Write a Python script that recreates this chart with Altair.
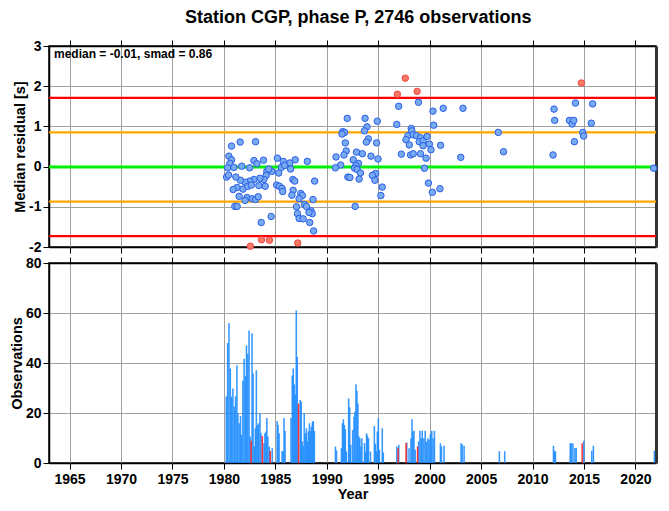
import altair as alt
import pandas as pd

STATION = "CGP"
PHASE = "P"
N_OBS = 2746
MEDIAN = -0.01
SMAD = 0.86

# ---- residual points (monthly medians) ----
res_year = [
    1980.74, 1981.58, 1983.08, 1980.48, 1980.74, 1980.58, 1980.36, 1980.26, 1980.45, 1980.97,
    1981.74, 1982.50, 1982.92, 1983.21, 1983.85, 1985.20, 1985.77, 1986.41, 1986.93, 1988.11,
    1985.58, 1985.90, 1986.48, 1985.33, 1984.65, 1984.17, 1984.36, 1984.11, 1983.88, 1983.50,
    1982.92, 1982.50, 1982.06, 1981.61, 1981.16, 1981.29, 1980.90, 1981.86, 1982.31, 1982.67,
    1983.40, 1984.01, 1985.13, 1985.39, 1985.65, 1985.71, 1986.70, 1986.89, 1988.82, 1986.73,
    1986.61, 1981.48, 1982.25, 1982.76, 1983.08, 1983.34, 1982.06, 1981.06, 1981.29, 1987.47,
    1987.63, 1987.31, 1988.66, 1987.83, 1988.02, 1987.06, 1988.47, 1988.59, 1988.27, 1987.15,
    1987.31, 1987.70, 1984.59, 1983.63, 1988.34, 1988.72,
    1991.99, 1993.72, 1993.91, 1993.66, 1994.91, 1991.54, 1991.73, 1991.48, 1991.80, 1994.04,
    1993.85, 1994.84, 1991.89, 1991.67, 1990.90, 1992.89, 1993.46, 1994.30, 1994.98, 1992.57,
    1993.08, 1992.82, 1991.35, 1990.84, 1992.70, 1992.95, 1993.27, 1992.05, 1992.25, 1993.14,
    1994.55, 1994.75, 1994.43, 1994.68, 1995.39, 1995.26, 1992.76, 1996.99, 1998.91, 1996.80,
    1998.21, 1998.27, 1997.89, 1998.40, 1998.72, 1999.11, 1997.70, 1998.98, 1999.36, 1998.02,
    1999.36, 1997.25, 1998.14, 1998.40, 1999.11, 1999.49,
    1999.75, 1999.97, 2000.13, 2001.06, 1999.65, 1999.88, 2000.26, 2001.00, 2000.32, 2001.32,
    2003.24, 2000.39, 2003.02, 2006.67, 2007.18, 2011.99, 2012.09, 2012.15, 2013.59, 2013.85,
    2014.01, 2014.07, 2014.17, 2014.88, 2014.97, 2015.71, 2015.84, 2021.77,
]
res_val = [
    0.51, 0.61, 0.62, 0.26, 0.17, 0.08, -0.03, -0.26, -0.21, -0.02,
    0.01, -0.03, 0.15, 0.07, 0.16, 0.21, 0.13, 0.09, 0.17, 0.13,
    -0.02, 0.03, -0.06, -0.16, -0.12, -0.12, -0.06, -0.22, -0.32, -0.29,
    -0.32, -0.36, -0.39, -0.34, -0.26, -0.52, -0.57, -0.56, -0.49, -0.46,
    -0.47, -0.49, -0.46, -0.49, -0.54, -0.62, -0.32, -0.36, -0.36, -0.59,
    -0.71, -0.74, -0.77, -0.80, -0.82, -0.75, -0.84, -0.99, -0.99, -0.67,
    -0.72, -0.80, -0.82, -0.94, -0.99, -1.00, -1.10, -1.17, -1.14, -1.17,
    -1.29, -1.30, -1.24, -1.39, -1.39, -1.60,
    1.20, 1.20, 0.99, 0.89, 1.13, 0.87, 0.85, 0.81, 0.59, 0.69,
    0.61, 0.59, 0.39, 0.29, 0.24, 0.36, 0.32, 0.26, 0.19, 0.17,
    0.08, 0.03, 0.04, -0.03, -0.04, -0.07, -0.16, -0.26, -0.27, -0.31,
    -0.21, -0.17, -0.22, -0.34, -0.51, -0.72, -0.99, 1.50, 1.60, 1.05,
    0.95, 0.89, 0.77, 0.79, 0.77, 0.72, 0.67, 0.62, 0.64, 0.54,
    0.52, 0.31, 0.29, 0.32, 0.32, -0.04,
    0.75, 0.56, 0.42, 0.53, 0.21, -0.41, -0.64, -0.55, 1.38, 1.45,
    1.45, 1.03, 0.23, 0.85, 0.37, 0.29, 1.43, 1.15, 1.15, 1.06,
    1.15, 0.62, 1.58, 0.85, 0.76, 1.08, 1.56, -0.04,
]
out_year = [1982.57, 1983.66, 1984.43, 1987.18, 1996.86, 1997.63, 1998.78, 2014.75]
out_val = [-1.98, -1.82, -1.83, -1.90, 1.80, 2.20, 1.87, 2.08]

# ---- observation counts per month ----
bar_year = [
    1980.16, 1980.29, 1980.42, 1980.55, 1980.68, 1980.80, 1980.93, 1981.06, 1981.19, 1981.28,
    1981.41, 1981.54, 1981.64, 1981.77, 1981.89, 1982.02, 1982.12, 1982.25, 1982.37, 1982.47,
    1982.66, 1982.76, 1982.89, 1982.98, 1983.08, 1983.21, 1983.30, 1983.43, 1983.53, 1983.82,
    1983.91, 1984.01, 1984.10, 1984.20, 1984.33, 1984.62, 1985.10, 1985.19, 1985.29, 1985.58,
    1985.68, 1985.77, 1985.87, 1986.45, 1986.57, 1986.67, 1986.77, 1986.86, 1986.96, 1987.05,
    1987.34, 1987.44, 1987.53, 1987.63, 1987.73, 1987.86, 1987.95, 1988.05, 1988.14, 1988.24,
    1988.34, 1988.43, 1988.53, 1988.62, 1988.72,
    1990.77, 1990.87, 1991.35, 1991.45, 1991.54, 1991.64, 1991.73, 1991.83, 1992.05, 1992.15,
    1992.25, 1992.44, 1992.57, 1992.66, 1992.76, 1992.86, 1992.95, 1993.05, 1993.14, 1993.24,
    1993.34, 1993.59, 1993.69, 1993.79, 1993.88, 1993.98, 1994.17, 1994.55, 1994.65, 1994.75,
    1994.84, 1994.94, 1995.04, 1995.32, 1995.42, 1996.73, 1996.92, 1997.70, 1997.92, 1998.11,
    1998.21, 1998.30, 1998.40, 1998.52, 1998.85, 1998.98, 1999.10, 1999.20, 1999.36, 1999.49,
    1999.62, 1999.75, 1999.87, 1999.99, 2000.13, 2000.26, 2000.39,
    2000.97, 2001.07, 2001.32, 2002.98, 2003.08, 2003.27, 2006.70, 2007.22, 2011.96, 2012.06,
    2012.15, 2013.59, 2013.69, 2013.85, 2014.04, 2014.17, 2014.91, 2015.68, 2015.84, 2021.77,
]
bar_count = [
    26.7, 48.0, 56.0, 37.8, 26.5, 29.8, 22.5, 26.7, 39.1, 19.9,
    15.9, 18.8, 11.2, 32.9, 41.7, 34.7, 47.0, 43.7, 53.0, 10.6,
    51.9, 35.8, 6.6, 13.9, 37.1, 15.2, 15.9, 19.9, 12.0, 7.9,
    11.9, 12.6, 18.0, 10.6, 6.6, 5.9, 16.8, 15.2, 11.9, 4.8,
    4.6, 18.0, 12.8, 18.0, 35.0, 37.8, 31.4, 27.4, 61.0, 42.4,
    25.2, 24.5, 8.6, 6.9, 19.9, 11.9, 13.9, 8.6, 12.6, 15.9,
    12.8, 14.6, 16.5, 16.8, 12.8,
    6.6, 5.0, 5.9, 15.9, 17.5, 15.2, 13.5, 4.6, 25.8, 22.3,
    7.3, 13.2, 18.5, 20.5, 31.5, 28.9, 23.8, 10.6, 9.9, 6.6,
    9.9, 8.0, 4.6, 11.9, 10.9, 9.9, 4.6, 14.8, 7.7, 4.6,
    12.6, 17.9, 5.3, 13.9, 4.2, 6.6, 7.3, 8.2, 5.9, 9.9,
    17.5, 12.6, 12.9, 5.3, 8.6, 12.9, 9.9, 12.9, 9.9, 12.9,
    8.6, 9.9, 9.3, 11.5, 12.9, 9.9, 12.9,
    7.9, 6.6, 6.9, 7.9, 7.5, 6.9, 4.7, 4.7, 6.9, 4.9,
    4.6, 7.9, 7.9, 7.9, 6.0, 6.0, 8.9, 4.9, 6.9, 4.9,
]
red_year = [1982.57, 1983.66, 1984.43, 1987.18, 1996.86, 1997.63, 1998.75, 2014.75]
red_count = [8.9, 10.8, 4.8, 23.8, 5.9, 8.0, 6.6, 7.9]

year_ticks = list(range(1965, 2021, 5))
res_ticks = [-2, -1, 0, 1, 2, 3]
obs_ticks = [0, 20, 40, 60, 80]

X_DOMAIN = [1963, 2022]
W, H1, H2 = 607, 201, 200
BAR_W = 0.15
FONT = "Liberation Sans"

pts = pd.DataFrame({"year": res_year, "val": res_val})
outs = pd.DataFrame({"year": out_year, "val": out_val})
ref = pd.DataFrame({
    "val": [MEDIAN + 2 * SMAD, MEDIAN - 2 * SMAD, MEDIAN + SMAD, MEDIAN - SMAD, MEDIAN],
    "color": ["#ff0000", "#ff0000", "#ffa500", "#ffa500", "#00f000"],
    "w": [2.2, 2.2, 2.2, 2.2, 3.2],
})
bars = pd.DataFrame({"year": bar_year, "count": bar_count})
reds = pd.DataFrame({"year": red_year, "count": red_count})

xs = alt.Scale(domain=X_DOMAIN, nice=False, zero=False)
ys1 = alt.Scale(domain=[-2, 3], nice=False, zero=False)
ys2 = alt.Scale(domain=[0, 80], nice=False)

common = dict(labelFont=FONT, labelFontSize=14, labelFontWeight="bold", labelColor="black",
              titleFont=FONT, titleFontSize=14.5, titleFontWeight="bold", titleColor="black",
              tickColor="black", tickSize=6, tickWidth=1, domainColor="black", domainWidth=1.5,
              gridColor="#a0a0a0", gridWidth=1, labelPadding=3)

def ax(**kw):
    d = dict(common)
    d.update(kw)
    return alt.Axis(**d)

label_expr = "'' + datum.value"
edge_axis = dict(labels=False, title=None, grid=False, minExtent=0, maxExtent=0)

# ---------- top panel ----------
ref_layer = alt.Chart(ref).mark_rule().encode(
    y=alt.Y("val:Q", scale=ys1, axis=ax(orient="right", values=res_ticks, ticks=False,
                                        domainWidth=3, domainColor="#333333", **edge_axis)),
    color=alt.Color("color:N", scale=None),
    strokeWidth=alt.StrokeWidth("w:Q", scale=None),
)
pt_layer = alt.Chart(pts).mark_circle(size=42, opacity=1, color="#78aaf0",
                                      stroke="#2a5ee8", strokeWidth=1).encode(
    x=alt.X("year:Q", scale=xs, axis=ax(orient="bottom", values=year_ticks, labels=False,
                                        title=None, grid=True)),
    y=alt.Y("val:Q", scale=ys1, axis=ax(orient="left", values=res_ticks, grid=True,
                                        title="Median residual [s]", labelExpr=label_expr,
                                        titlePadding=1, labelPadding=2)),
)
out_layer = alt.Chart(outs).mark_circle(size=42, opacity=1, color="#f87868",
                                        stroke="#f04a40", strokeWidth=1).encode(
    x=alt.X("year:Q", scale=xs, axis=ax(orient="top", values=year_ticks, **edge_axis)),
    y=alt.Y("val:Q", scale=ys1, axis=None),
)
txt = alt.Chart(pd.DataFrame({"t": [f"median = {MEDIAN:.2f}, smad = {SMAD:.2f}"]})).mark_text(
    align="left", baseline="middle", font=FONT, fontSize=12, fontWeight="bold", color="black"
).encode(x=alt.value(5), y=alt.value(8), text="t:N")

top = alt.layer(ref_layer, pt_layer, out_layer, txt).resolve_axis(
    x="independent", y="independent").properties(width=W, height=H1)

# ---------- bottom panel ----------
bar_layer = alt.Chart(bars).transform_calculate(year_end=f"datum.year + {BAR_W}").mark_bar(
    color="#1e8cff", opacity=0.9).encode(
    x=alt.X("year:Q", scale=xs, axis=ax(orient="bottom", values=year_ticks, grid=True,
                                        title="Year", format="d", titlePadding=1)),
    x2="year_end:Q",
    y=alt.Y("count:Q", scale=ys2, axis=ax(orient="left", values=obs_ticks, grid=True,
                                          title="Observations", titlePadding=1,
                                          labelPadding=2)),
    y2=alt.datum(0),
)
red_layer = alt.Chart(reds).transform_calculate(year_end=f"datum.year + {BAR_W}").mark_bar(
    color="#ff2020", opacity=0.9).encode(
    x=alt.X("year:Q", scale=xs, axis=ax(orient="top", values=year_ticks, **edge_axis)),
    x2="year_end:Q",
    y=alt.Y("count:Q", scale=ys2, axis=ax(orient="right", values=obs_ticks, ticks=False,
                                          domainWidth=3, domainColor="#333333", **edge_axis)),
    y2=alt.datum(0),
)
bottom = alt.layer(bar_layer, red_layer).resolve_axis(
    x="independent", y="independent").properties(width=W, height=H2)

chart = alt.vconcat(top, bottom, spacing=16, bounds="flush").properties(
    title=alt.TitleParams(f"Station {STATION}, phase {PHASE}, {N_OBS} observations",
                          font=FONT, fontSize=18, fontWeight="bold", color="black",
                          anchor="middle", offset=11, dx=24),
    padding={"left": 0, "top": 1, "right": 0, "bottom": 0},
).configure_view(stroke="black", strokeWidth=1.5)

chart.save("out.html", embed_options={"renderer": "svg", "actions": False})
